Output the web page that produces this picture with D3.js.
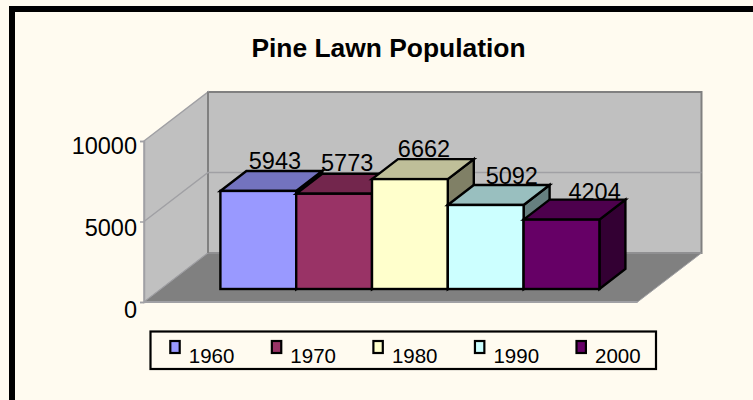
<!DOCTYPE html>
<html><head><meta charset="utf-8">
<script src="https://cdn.jsdelivr.net/npm/d3@7"></script>
<style>html,body{margin:0;padding:0;background:#FFFBF0}svg{display:block}text{font-family:"Liberation Sans",Arial,sans-serif;fill:#000}</style>
</head><body><svg id="c" width="753" height="400"></svg>
<script>
const categories = ["1960","1970","1980","1990","2000"];
const values = [5943,5773,6662,5092,4204];
const colors = ["#9999FF","#993366","#FFFFCC","#CCFFFF","#660066"];
const tickValues = [0,5000,10000];
const titleText = "Pine Lawn Population";
// label placement relative to each bar's front-left / top corner
const labelShiftX = [54.5,51,52,64,71];
const labelShiftY = [-2,-3,-2,-1,0];

const svg = d3.select("#c");
svg.append("rect").attr("width",753).attr("height",400).attr("fill","#FFFBF0");
svg.append("path").attr("d","M12,400V9H753").attr("fill","none").attr("stroke","#000").attr("stroke-width",6);

svg.append("text").attr("x",388.5).attr("y",57).attr("text-anchor","middle")
  .attr("font-size",26.4).attr("font-weight","bold").text(titleText);

// walls
const wallY = d3.scaleLinear().domain([0,10000]).range([302,141]);
const labelY = d3.scaleLinear().domain([0,10000]).range([317,153]);
const dx = 64, dy = -49, wallL = 144, wallR = 637.5;
const poly = pts => "M"+pts.map(p=>p.join(",")).join("L")+"Z";
const y0 = wallY(0), yT = wallY(10000);
svg.append("path").attr("d",poly([[wallL+dx,yT+dy],[wallR+dx,yT+dy],[wallR+dx,y0+dy],[wallL+dx,y0+dy]]))
  .attr("fill","#C0C0C0").attr("stroke","#808080").attr("stroke-width",2);
svg.append("path").attr("d",poly([[wallL,yT],[wallL+dx,yT+dy],[wallL+dx,y0+dy],[wallL,y0]]))
  .attr("fill","#C0C0C0").attr("stroke","#A0A0A4").attr("stroke-width",1.5);
svg.append("path").attr("d",poly([[wallL,y0],[wallL+dx,y0+dy],[wallR+dx,y0+dy],[wallR,y0]]))
  .attr("fill","#808080").attr("stroke","#A0A0A4").attr("stroke-width",1);
svg.append("path").attr("d",`M${wallL},${y0}L${wallR},${y0}`).attr("stroke","#A0A0A4").attr("stroke-width",2);
svg.append("path").attr("d",`M${wallL+dx},${yT+dy}V${y0+dy}`).attr("stroke","#808080").attr("stroke-width",2);
const mid = wallY(5000);
svg.append("path").attr("d",`M${wallL},${mid}L${wallL+dx},${mid+dy}H${wallR+dx}`)
  .attr("fill","none").attr("stroke","#A0A0A4").attr("stroke-width",1.5);

// axis
const axisG = svg.append("g").attr("transform",`translate(${wallL},0)`)
  .call(d3.axisLeft(wallY).tickValues(tickValues).tickSize(4).tickPadding(3).tickFormat(d3.format("d")));
axisG.select(".domain").attr("stroke","#A0A0A4").attr("stroke-width",1.5);
axisG.selectAll("line").attr("stroke","#A0A0A4").attr("stroke-width",1.5);
axisG.selectAll("text").attr("font-size",23.5).attr("font-family",'"Liberation Sans",Arial,sans-serif')
  .attr("dy",0).attr("y",d=>labelY(d)-wallY(d));

// bars
const x = d3.scaleBand().domain(categories).range([220.4,599.4]);
const barY = d3.scaleLinear().domain([0,10000]).range([289,124]);
const bdx = 26, bdy = -20;
const shade = (c,k)=>{const r=d3.rgb(c);return d3.rgb(r.r*k,r.g*k,r.b*k).formatHex();};
const data = categories.map((c,i)=>({c,v:values[i],col:colors[i],lx:labelShiftX[i],ly:labelShiftY[i]}));

svg.append("g").selectAll("text").data(data).join("text")
  .attr("x",d=>x(d.c)+d.lx)
  .attr("y",d=>barY(d.v)+bdy+d.ly)
  .attr("text-anchor","middle").attr("font-size",23.5).text(d=>d.v);

const bars = svg.append("g").selectAll("g").data(data).join("g")
  .attr("stroke","#000").attr("stroke-width",2.4).attr("stroke-linejoin","miter");
bars.append("path").attr("fill",d=>shade(d.col,.5)).attr("d",d=>{
  const r=x(d.c)+x.bandwidth(),t=barY(d.v),b=barY(0);
  return poly([[r,t],[r+bdx,t+bdy],[r+bdx,b+bdy],[r,b]]);});
bars.append("path").attr("fill",d=>shade(d.col,.75)).attr("d",d=>{
  const l=x(d.c),r=l+x.bandwidth(),t=barY(d.v);
  return poly([[l,t],[l+bdx,t+bdy],[r+bdx,t+bdy],[r,t]]);});
bars.append("rect").attr("fill",d=>d.col)
  .attr("x",d=>x(d.c)).attr("width",x.bandwidth())
  .attr("y",d=>barY(d.v)).attr("height",d=>barY(0)-barY(d.v));

// legend
svg.append("rect").attr("x",150.5).attr("y",331.5).attr("width",505.5).attr("height",37.5)
  .attr("fill","none").attr("stroke","#000").attr("stroke-width",2.2);
const swatchX = d3.scalePoint().domain(categories).range([170.3,576.5]);
const leg = svg.append("g").selectAll("g").data(data).join("g")
  .attr("transform",d=>`translate(${swatchX(d.c)},0)`);
leg.append("rect").attr("y",341).attr("width",9.4).attr("height",12).attr("fill",d=>d.col)
  .attr("stroke","#000").attr("stroke-width",2.2);
leg.append("text").attr("x",18.5).attr("y",363).attr("font-size",20.5).text(d=>d.c);
</script></body></html>
